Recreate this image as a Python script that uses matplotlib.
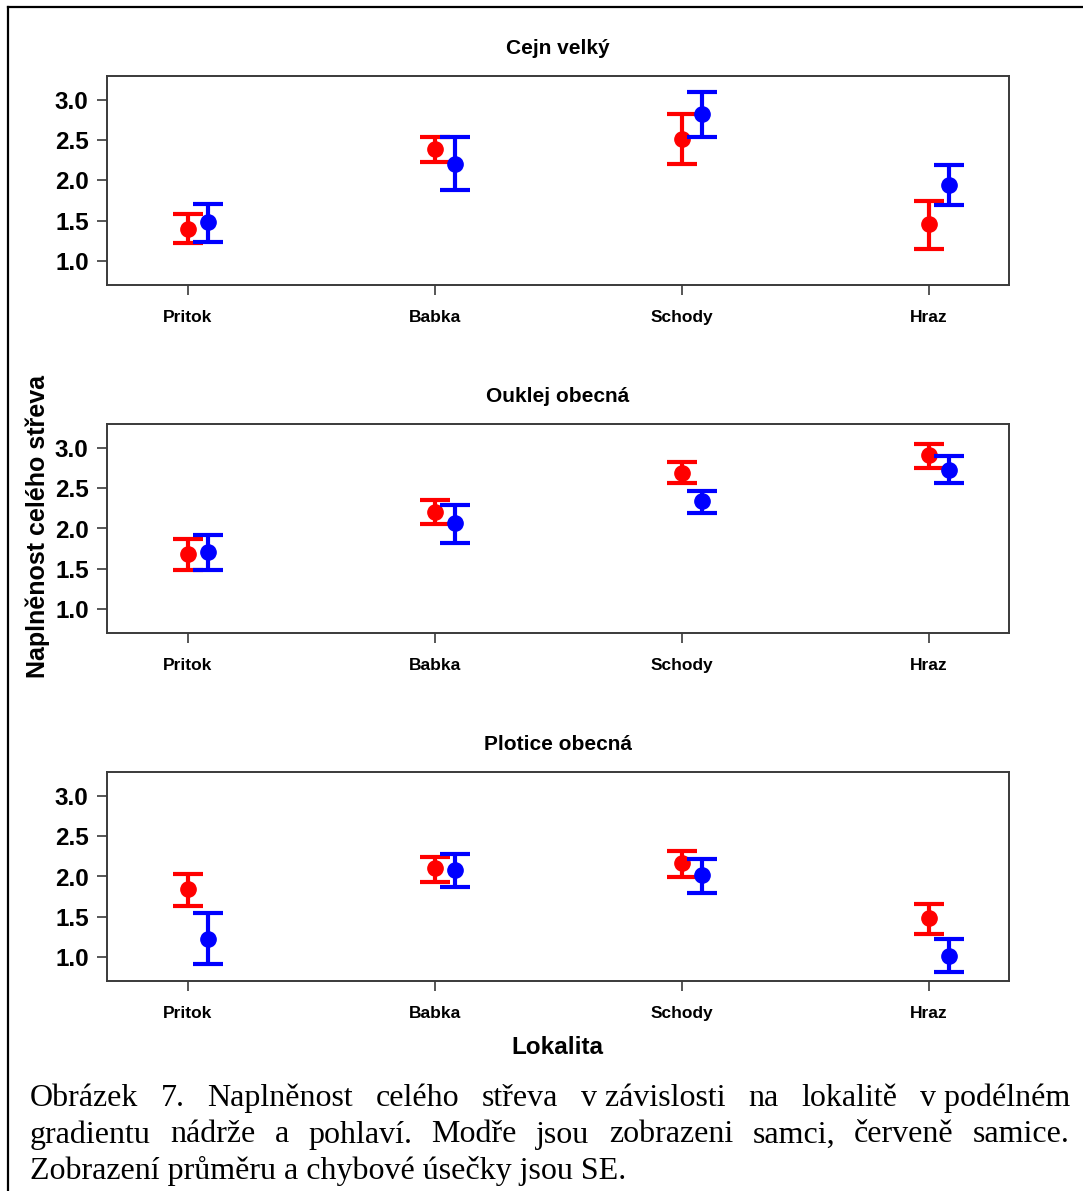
import matplotlib
matplotlib.use("Agg")
import matplotlib.pyplot as plt
from matplotlib.lines import Line2D
import numpy as np

# ---------------- data ----------------
locations = ["Pritok", "Babka", "Schody", "Hraz"]
species = ["Cejn velký", "Ouklej obecná", "Plotice obecná"]

# females (red): mean, lower SE bound, upper SE bound
f_mean = [[1.40, 2.39, 2.52, 1.46],
          [1.68, 2.20, 2.69, 2.91],
          [1.84, 2.10, 2.17, 1.48]]
f_low = [[1.23, 2.23, 2.21, 1.15],
         [1.49, 2.05, 2.56, 2.75],
         [1.63, 1.93, 1.99, 1.29]]
f_high = [[1.59, 2.54, 2.83, 1.74],
          [1.87, 2.35, 2.82, 3.05],
          [2.03, 2.24, 2.32, 1.66]]

# males (blue)
m_mean = [[1.48, 2.21, 2.83, 1.95],
          [1.71, 2.07, 2.34, 2.72],
          [1.22, 2.08, 2.02, 1.01]]
m_low = [[1.24, 1.88, 2.54, 1.69],
         [1.49, 1.82, 2.19, 2.56],
         [0.91, 1.87, 1.80, 0.81]]
m_high = [[1.71, 2.54, 3.10, 2.19],
          [1.92, 2.29, 2.47, 2.90],
          [1.55, 2.28, 2.22, 1.22]]

yticks = [1.0, 1.5, 2.0, 2.5, 3.0]
ytick_labels = ["1.0", "1.5", "2.0", "2.5", "3.0"]

caption_lines = [
    ["Obrázek", "7.", "Naplněnost", "celého", "střeva", "v\u00a0závislosti",
     "na", "lokalitě", "v\u00a0podélném"],
    ["gradientu", "nádrže", "a", "pohlaví.", "Modře", "jsou", "zobrazeni",
     "samci,", "červeně", "samice."],
    "Zobrazení průměru a chybové úsečky jsou SE.",
]

# ---------------- figure ----------------
W, H = 1083, 1191
fig = plt.figure(figsize=(W / 100, H / 100), dpi=100)
fig.patch.set_facecolor("white")

sans = ["Liberation Sans", "DejaVu Sans"]
serif = ["Liberation Serif", "DejaVu Serif"]

ax_left, ax_right = 107, 1009
panel_tops = [76, 424, 772]
panel_h = 209
x = np.arange(1, len(locations) + 1)
offset = 0.08
axis_col = "#3a3a3a"

for i, sp in enumerate(species):
    top = panel_tops[i]
    ax = fig.add_axes([ax_left / W, 1 - (top + panel_h) / H,
                       (ax_right - ax_left) / W, panel_h / H])
    fm = np.array(f_mean[i]); fl = np.array(f_low[i]); fh = np.array(f_high[i])
    mm = np.array(m_mean[i]); ml = np.array(m_low[i]); mh = np.array(m_high[i])
    ax.errorbar(x, fm, yerr=[fm - fl, fh - fm], fmt="o", color="#ff0000",
                ecolor="#ff0000", elinewidth=3.0, capsize=11, capthick=3.0,
                markersize=11, zorder=3)
    ax.errorbar(x + offset, mm, yerr=[mm - ml, mh - mm], fmt="o", color="#0000ff",
                ecolor="#0000ff", elinewidth=3.0, capsize=11, capthick=3.0,
                markersize=11, zorder=4)
    ax.set_xlim(0.672, 4.324)
    ax.set_ylim(0.704, 3.296)
    ax.set_yticks(yticks)
    ax.set_yticklabels(ytick_labels, fontsize=17.5, fontweight="bold", family=sans)
    ax.set_xticks(x)
    ax.set_xticklabels(locations, fontsize=12.5, fontweight="bold", family=sans)
    ax.tick_params(axis="y", direction="out", length=7.2, width=1.2,
                   color=axis_col, pad=6)
    ax.tick_params(axis="x", direction="out", length=7, width=1.2,
                   color=axis_col, pad=11)
    for s in ax.spines.values():
        s.set_color(axis_col)
        s.set_linewidth(1.4)
    ax.set_title(sp, fontsize=15, fontweight="bold", family=sans, pad=16)

# axis labels
fig.text(557 / W, 1 - 1048 / H, "Lokalita", fontsize=17.5, fontweight="bold",
         family=sans, ha="center", va="center")
fig.text(38 / W, 1 - 527 / H, "Naplněnost celého střeva", fontsize=18,
         fontweight="bold", family=sans, ha="center", va="center", rotation=90)

# outer frame (top and left edges)
fig.add_artist(Line2D([8 / W, 8 / W], [1 - 7 / H, 0], transform=fig.transFigure,
                      color="black", lw=1.6))
fig.add_artist(Line2D([8 / W, 1], [1 - 7 / H, 1 - 7 / H], transform=fig.transFigure,
                      color="black", lw=1.6))

# caption (justified lines)
cap_fs = 23.0
x0, x1 = 30, 1070
line_y = [1098, 1135, 1171]
renderer = fig.canvas.get_renderer()
for li, words in enumerate(caption_lines):
    yy = 1 - line_y[li] / H
    if isinstance(words, str):
        fig.text(x0 / W, yy, words, fontsize=cap_fs, family=serif,
                 ha="left", va="center")
        continue
    texts = [fig.text(0, yy, w, fontsize=cap_fs, family=serif, ha="left",
                      va="center") for w in words]
    widths = [t.get_window_extent(renderer=renderer).width for t in texts]
    gap = ((x1 - x0) - sum(widths)) / (len(words) - 1)
    cur = x0
    for t, wdt in zip(texts, widths):
        t.set_x(cur / W)
        cur += wdt + gap

fig.savefig("out.png", dpi=100, facecolor="white")
